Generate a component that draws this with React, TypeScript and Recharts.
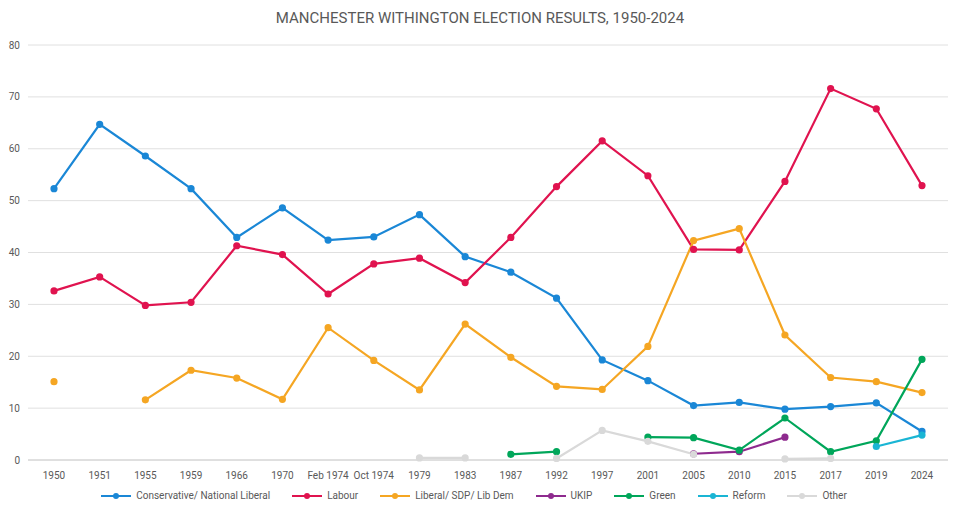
import React from "react";
import { LineChart, Line, XAxis, YAxis, CartesianGrid, Legend } from "recharts";

const years = ["1950","1951","1955","1959","1966","1970","Feb 1974","Oct 1974","1979","1983","1987","1992","1997","2001","2005","2010","2015","2017","2019","2024"];
const conservative = [52.3,64.7,58.6,52.3,42.9,48.6,42.4,43.0,47.3,39.2,36.2,31.2,19.3,15.3,10.5,11.1,9.8,10.3,11.0,5.5];
const labour = [32.6,35.3,29.8,30.4,41.3,39.6,32.0,37.8,38.9,34.2,42.9,52.7,61.5,54.8,40.6,40.5,53.7,71.6,67.7,52.9];
const libdem = [15.1,null,11.6,17.3,15.8,11.7,25.5,19.2,13.5,26.2,19.8,14.2,13.6,21.9,42.3,44.6,24.1,15.9,15.1,13.0];
const ukip = [null,null,null,null,null,null,null,null,null,null,null,null,null,null,1.2,1.6,4.4,null,null,null];
const green = [null,null,null,null,null,null,null,null,null,null,1.1,1.6,null,4.4,4.3,1.9,8.1,1.6,3.7,19.4];
const reform = [null,null,null,null,null,null,null,null,null,null,null,null,null,null,null,null,null,null,2.6,4.8];
const other = [null,null,null,null,null,null,null,null,0.4,0.4,null,0.3,5.7,3.6,1.1,null,0.2,0.3,null,null];
const yTicks = [0,10,20,30,40,50,60,70,80];

const data = years.map((y, i) => ({
  year: y, con: conservative[i], lab: labour[i], lib: libdem[i], ukip: ukip[i], green: green[i], reform: reform[i], other: other[i],
}));

const series = [
  { key: "con", name: "Conservative/ National Liberal", color: "#1a87d6" },
  { key: "lab", name: "Labour", color: "#e0134f" },
  { key: "lib", name: "Liberal/ SDP/ Lib  Dem", color: "#f5a623" },
  { key: "ukip", name: "UKIP", color: "#8e2a8e" },
  { key: "green", name: "Green", color: "#00a65a" },
  { key: "reform", name: "Reform", color: "#1ab5d4" },
  { key: "other", name: "Other", color: "#d9d9d9" },
];

const LegendContent = () => (
  <div style={{ display: "flex", justifyContent: "center", gap: 22, fontSize: 10, color: "#595959" }}>
    {series.map((s) => (
      <div key={s.key} style={{ display: "flex", alignItems: "center", gap: 5 }}>
        <svg width={30} height={8}>
          <line x1={0} y1={4} x2={30} y2={4} stroke={s.color} strokeWidth={2} />
          <circle cx={15} cy={4} r={3} fill={s.color} />
        </svg>
        <span>{s.name}</span>
      </div>
    ))}
  </div>
);

export default function App() {
  return (
    <div style={{ position: "absolute", left: 0, top: 0, width: 960, height: 528, background: "#fff", fontFamily: "Roboto, 'Noto Sans', sans-serif" }}>
      <div style={{ position: "absolute", top: 9, width: 960, textAlign: "center", fontSize: 15, color: "#595959" }}>
        MANCHESTER WITHINGTON ELECTION RESULTS, 1950-2024
      </div>
      <LineChart width={960} height={528} data={data} margin={{ top: 45, right: 12, left: 0, bottom: 0 }}>
        <CartesianGrid vertical={false} stroke="#e0e0e0" />
        <XAxis dataKey="year" padding={{ left: 26, right: 26 }} tick={{ fontSize: 10, fill: "#595959" }} tickLine={false} axisLine={{ stroke: "#d0d0d0" }} interval={0} tickMargin={6} />
        <YAxis width={28} domain={[0, 80]} ticks={yTicks} tick={{ fontSize: 10, fill: "#595959" }} tickLine={false} axisLine={false} />
        <Legend verticalAlign="bottom" height={38} content={<LegendContent />} />
        {series.map((s) => (
          <Line key={s.key} dataKey={s.key} name={s.name} stroke={s.color} strokeWidth={2.2}
            dot={{ r: 2.5, fill: s.color, stroke: s.color }} isAnimationActive={false} connectNulls={false} />
        ))}
      </LineChart>
    </div>
  );
}
